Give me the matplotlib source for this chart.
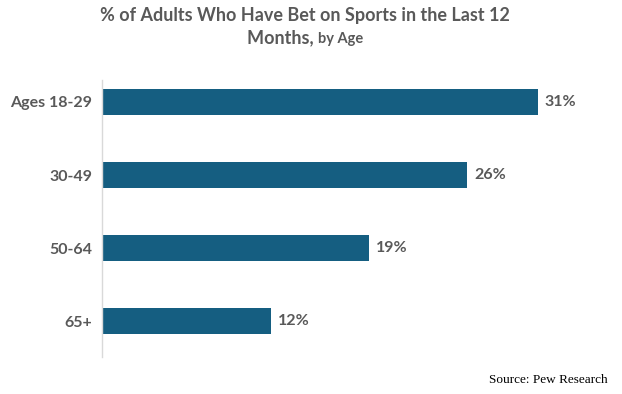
import matplotlib
matplotlib.use("Agg")
import matplotlib.pyplot as plt

categories = ["Ages 18-29", "30-49", "50-64", "65+"]
values = [31, 26, 19, 12]
value_labels = ["31%", "26%", "19%", "12%"]

BAR = "#155e81"
GRAY = "#595959"
FONT = ["Lato", "DejaVu Sans"]

W, H = 622, 394
fig = plt.figure(figsize=(W/100, H/100), dpi=100)
ax = fig.add_axes([102/W, (H-357)/H, (608-102)/W, (357-80)/H])

y = list(range(len(categories)))
ax.barh(y, values, height=0.36, color=BAR)
ax.set_xlim(0, 36)
ax.set_ylim(3.49, -0.3)
ax.set_yticks(y)
ax.set_yticklabels(categories, fontsize=11.5, fontweight="bold", color=GRAY, family=FONT)
ax.tick_params(axis="y", length=0, pad=7)
ax.set_xticks([])
for s in ["top", "right", "bottom"]:
    ax.spines[s].set_visible(False)
ax.spines["left"].set_color("#d9d9d9")
ax.spines["left"].set_linewidth(1.0)

for yi, v, lab in zip(y, values, value_labels):
    ax.annotate(lab, (v, yi), xytext=(5, 0), textcoords="offset points",
                va="center", ha="left", fontsize=11.5, fontweight="bold",
                color=GRAY, family=FONT)

fig.text(305/W, 1-16/H, "% of Adults Who Have Bet on Sports in the Last 12",
         ha="center", va="center", fontsize=13, fontweight="bold", color=GRAY, family=FONT)

# second title line with mixed sizes
fig.canvas.draw()
r = fig.canvas.get_renderer()
t1 = fig.text(0, 1-37/H, "Months, ", ha="left", va="baseline", fontsize=13,
              fontweight="bold", color=GRAY, family=FONT)
t2 = fig.text(0, 1-37/H, "by Age", ha="left", va="baseline", fontsize=10.5,
              fontweight="bold", color=GRAY, family=FONT)
w1 = t1.get_window_extent(r).width
w2 = t2.get_window_extent(r).width
start = 305 - (w1 + w2) / 2
ybase = 1 - 43/H
t1.set_position((start/W, ybase))
t2.set_position(((start + w1)/W, ybase))

fig.text(608/W, 1-380/H, "Source: Pew Research", ha="right", va="center",
         fontsize=9.5, color="black", family=["Liberation Serif", "DejaVu Serif"])

fig.savefig("out.png", dpi=100)
